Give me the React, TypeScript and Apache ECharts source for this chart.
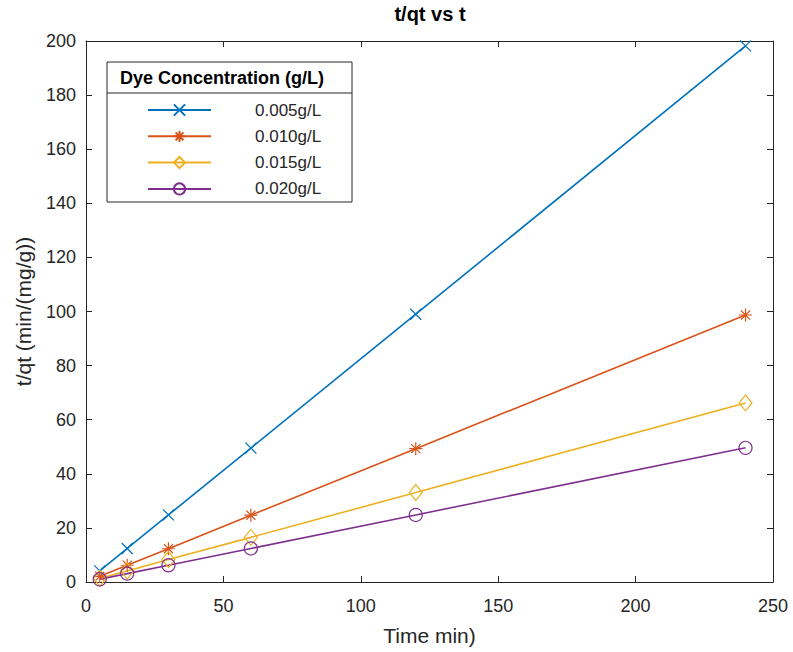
import React, { useEffect, useRef } from "react";
import * as echarts from "echarts";

const times = [5, 15, 30, 60, 120, 240];
const seriesNames = ["0.005g/L", "0.010g/L", "0.015g/L", "0.020g/L"];
const conc005 = [4.1, 12.4, 24.8, 49.5, 99.0, 198.2];
const conc010 = [2.1, 6.2, 12.3, 24.7, 49.3, 98.7];
const conc015 = [1.4, 4.1, 8.3, 16.5, 33.1, 66.2];
const conc020 = [1.0, 3.1, 6.2, 12.4, 24.8, 49.6];
const xTicks = [0, 50, 100, 150, 200, 250];
const yTicks = [0, 20, 40, 60, 80, 100, 120, 140, 160, 180, 200];

const colors = ["#0072BD", "#D95319", "#EDB120", "#7E2F8E"];
const symbols = [
  "path://M0,0L10,10M10,0L0,10",
  "path://M5,0L5,10M0,5L10,5M1.5,1.5L8.5,8.5M8.5,1.5L1.5,8.5",
  "diamond",
  "circle",
];
const symbolSizes: any[] = [11, 13, [13, 16], 13];

const FONT = "'Liberation Sans', Arial, Helvetica, sans-serif";
const TXT = "#262626";

export default function App() {
  const ref = useRef<HTMLDivElement>(null);
  useEffect(() => {
    if (!ref.current) return;
    const chart = echarts.init(ref.current, undefined, { renderer: "svg" });
    const allData = [conc005, conc010, conc015, conc020];
    const series = allData.map((vals, i) => ({
      name: seriesNames[i],
      type: "line",
      data: times.map((t, j) => [t, vals[j]]),
      symbol: symbols[i],
      symbolSize: symbolSizes[i],
      showAllSymbol: true,
      itemStyle: { color: "rgba(0,0,0,0)", borderColor: colors[i], borderWidth: 1.2 },
      lineStyle: { color: colors[i], width: 1.6 },
      emphasis: { disabled: true },
      z: 2,
    }));
    const axisCommon = {
      type: "value",
      axisLine: { show: true, onZero: false, lineStyle: { color: TXT, width: 1 } },
      axisTick: { show: true, inside: true, length: 6, lineStyle: { color: TXT } },
      splitLine: { show: false },
    };
    chart.setOption({
      animation: false,
      backgroundColor: "#ffffff",
      title: {
        text: "t/qt vs t",
        left: 430,
        top: 4,
        padding: 0,
        textAlign: "center",
        textStyle: { fontFamily: FONT, fontSize: 20, fontWeight: "bold", color: "#000" },
      },
      grid: { left: 86, right: 20, top: 41, bottom: 70, containLabel: false },
      legend: {
        orient: "vertical",
        left: 147,
        top: 101.5,
        padding: 0,
        itemWidth: 63,
        itemHeight: 14,
        itemGap: 9.3,
        selectedMode: false,
        data: seriesNames,
        formatter: "{a|{name}}",
        textStyle: {
          fontFamily: FONT,
          color: TXT,
          rich: { a: { fontFamily: FONT, fontSize: 17, lineHeight: 20, color: TXT, padding: [0, 0, 0, 39] } },
        },
        z: 5,
      },
      xAxis: [
        {
          ...axisCommon,
          position: "bottom",
          min: 0,
          max: 250,
          interval: 50,
          name: "Time min)",
          nameLocation: "middle",
          nameGap: 43,
          nameTextStyle: { fontFamily: FONT, fontSize: 21, color: TXT },
          axisLabel: { margin: 15, fontFamily: FONT, fontSize: 18, color: TXT },
        },
        {
          ...axisCommon,
          position: "top",
          min: 0,
          max: 250,
          interval: 50,
          axisLabel: { show: false },
        },
      ],
      yAxis: [
        {
          ...axisCommon,
          position: "left",
          min: 0,
          max: 200,
          interval: 20,
          name: "t/qt (min/(mg/g))",
          nameLocation: "middle",
          nameGap: 52,
          nameTextStyle: { fontFamily: FONT, fontSize: 21, color: TXT },
          axisLabel: { margin: 10, fontFamily: FONT, fontSize: 18, color: TXT },
        },
        {
          ...axisCommon,
          position: "right",
          min: 0,
          max: 200,
          interval: 20,
          axisLabel: { show: false },
        },
      ],
      graphic: [
        {
          type: "rect",
          shape: { x: 107, y: 62, width: 245, height: 140 },
          style: { fill: "#ffffff", stroke: TXT, lineWidth: 1 },
          z: 3,
        },
        {
          type: "line",
          shape: { x1: 107, y1: 93, x2: 352, y2: 93 },
          style: { stroke: TXT, lineWidth: 1 },
          z: 4,
        },
        {
          type: "text",
          x: 222,
          y: 78,
          style: {
            text: "Dye Concentration (g/L)",
            fontFamily: FONT,
            fontSize: 18,
            fontWeight: "bold",
            fill: "#000",
            align: "center",
            verticalAlign: "middle",
          },
          z: 4,
        },
      ],
      series,
    });
    return () => chart.dispose();
  }, []);
  return (
    <div
      ref={ref}
      style={{ position: "fixed", left: 0, top: 0, width: 793, height: 652, background: "#fff" }}
    />
  );
}
